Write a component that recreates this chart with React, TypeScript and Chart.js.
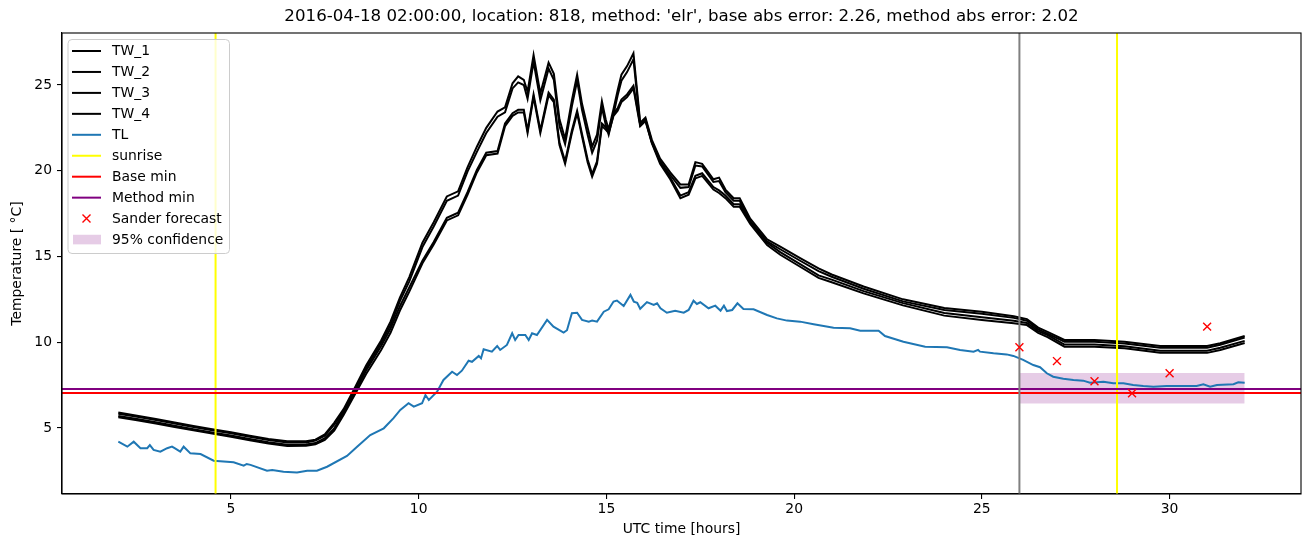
import React, { useEffect, useRef } from "react";
import { Chart, registerables } from "chart.js";

Chart.register(...registerables);

const titleText =
  "2016-04-18 02:00:00, location: 818, method: 'elr', base abs error: 2.26, method abs error: 2.02";

const twTimes = [
  2.0, 2.5, 3.0, 3.5, 4.0, 4.5, 5.0, 5.5, 6.0, 6.5,
  7.0, 7.25, 7.5, 7.75, 8.0, 8.3, 8.6, 9.0, 9.25, 9.5,
  9.75, 10.1, 10.4, 10.75, 11.05, 11.3, 11.55, 11.8, 12.1, 12.3,
  12.5, 12.65, 12.8, 12.9, 13.06, 13.24, 13.46, 13.6, 13.75, 13.9,
  14.08, 14.22, 14.35, 14.5, 14.62, 14.75, 14.88, 14.98, 15.06, 15.19,
  15.3, 15.4, 15.55, 15.72, 15.9, 16.04, 16.21, 16.43, 16.7, 16.97,
  17.19, 17.37, 17.55, 17.85, 18.0, 18.17, 18.39, 18.55, 18.83, 19.28,
  19.63, 20.16, 20.65, 21.0, 21.85, 22.9, 24.0, 25.0, 25.85, 26.2,
  26.5, 26.75, 27.2, 28.0, 28.8, 29.75, 31.0, 31.35, 32.0,
];

const tw1 = [
  5.90, 5.72, 5.52, 5.32, 5.12, 4.93, 4.75, 4.55, 4.36, 4.22,
  4.22, 4.32, 4.62, 5.30, 6.10, 7.35, 8.65, 10.10, 11.20, 12.60,
  13.80, 15.80, 17.00, 18.50, 18.80, 20.20, 21.40, 22.50, 23.45, 23.70,
  25.10, 25.50, 25.30, 24.60, 26.75, 24.50, 26.30, 25.65, 23.00, 21.85,
  24.10, 25.60, 23.90, 22.50, 21.40, 22.10, 24.05, 23.00, 22.40, 23.60,
  24.70, 25.60, 26.10, 26.85, 22.80, 23.10, 21.80, 20.70, 19.90, 19.20,
  19.20, 20.50, 20.40, 19.50, 19.60, 18.90, 18.40, 18.40, 17.20, 16.00,
  15.57, 14.90, 14.30, 13.95, 13.25, 12.50, 12.00, 11.78, 11.52, 11.35,
  10.85, 10.60, 10.13, 10.13, 10.03, 9.78, 9.78, 9.94, 10.36,
];

const tw2 = [
  5.83, 5.66, 5.46, 5.26, 5.06, 4.87, 4.69, 4.49, 4.30, 4.16,
  4.16, 4.27, 4.55, 5.20, 5.98, 7.25, 8.50, 9.95, 11.00, 12.40,
  13.55, 15.55, 16.75, 18.25, 18.55, 19.95, 21.10, 22.20, 23.15, 23.40,
  24.80, 25.15, 25.00, 24.20, 26.35, 24.10, 25.95, 25.30, 22.60, 21.55,
  23.75, 25.25, 23.55, 22.10, 21.05, 21.75, 23.70, 22.70, 22.10, 23.30,
  24.40, 25.25, 25.75, 26.50, 22.65, 22.95, 21.65, 20.55, 19.75, 19.00,
  19.05, 20.30, 20.25, 19.35, 19.40, 18.75, 18.25, 18.25, 17.05, 15.88,
  15.42, 14.75, 14.15, 13.82, 13.12, 12.38, 11.88, 11.66, 11.42, 11.25,
  10.75, 10.50, 10.03, 10.03, 9.93, 9.68, 9.68, 9.85, 10.28,
];

const tw3 = [
  5.70, 5.52, 5.33, 5.13, 4.93, 4.74, 4.56, 4.36, 4.17, 4.02,
  4.03, 4.12, 4.40, 4.98, 5.90, 7.10, 8.35, 9.78, 10.80, 12.10,
  13.20, 14.75, 15.85, 17.25, 17.55, 18.75, 20.05, 21.05, 21.15, 22.75,
  23.35, 23.55, 23.55, 22.35, 24.45, 22.35, 24.55, 24.15, 21.65, 20.55,
  22.35, 23.50, 22.15, 20.65, 19.80, 20.55, 22.75, 22.55, 22.35, 23.35,
  23.65, 24.15, 24.45, 24.95, 22.70, 23.00, 21.70, 20.50, 19.60, 18.55,
  18.75, 19.70, 19.85, 19.05, 18.85, 18.55, 18.05, 18.05, 17.05, 15.80,
  15.25, 14.55, 13.90, 13.65, 12.98, 12.28, 11.70, 11.45, 11.25, 11.12,
  10.65, 10.42, 9.86, 9.86, 9.76, 9.50, 9.50, 9.68, 10.08,
];

const tw4 = [
  5.62, 5.45, 5.26, 5.06, 4.86, 4.67, 4.49, 4.29, 4.10, 3.95,
  3.97, 4.05, 4.30, 4.85, 5.75, 6.95, 8.15, 9.55, 10.55, 11.85,
  12.95, 14.60, 15.70, 17.10, 17.40, 18.60, 19.90, 20.90, 21.00, 22.60,
  23.20, 23.40, 23.40, 22.20, 24.30, 22.20, 24.40, 24.00, 21.50, 20.40,
  22.20, 23.35, 22.00, 20.50, 19.65, 20.40, 22.60, 22.40, 22.20, 23.20,
  23.50, 24.00, 24.30, 24.80, 22.60, 22.90, 21.60, 20.40, 19.50, 18.40,
  18.60, 19.55, 19.70, 18.90, 18.70, 18.40, 17.90, 17.90, 16.90, 15.67,
  15.10, 14.40, 13.75, 13.50, 12.85, 12.15, 11.55, 11.30, 11.10, 11.00,
  10.55, 10.30, 9.74, 9.74, 9.65, 9.38, 9.38, 9.55, 9.95,
];

const tlTimes = [
  2.0, 2.24, 2.41, 2.59, 2.77, 2.84, 2.94, 3.12, 3.3, 3.43,
  3.5, 3.65, 3.74, 3.92, 4.19, 4.54, 5.07, 5.34, 5.42, 5.52,
  5.96, 6.1, 6.4, 6.76, 7.03, 7.29, 7.56, 8.09, 8.36, 8.71,
  9.07, 9.33, 9.51, 9.73, 9.87, 10.09, 10.18, 10.27, 10.49, 10.66,
  10.89, 11.02, 11.15, 11.33, 11.42, 11.6, 11.66, 11.73, 11.95, 12.09,
  12.17, 12.35, 12.49, 12.57, 12.66, 12.84, 12.93, 13.02, 13.15, 13.42,
  13.59, 13.86, 13.95, 14.08, 14.22, 14.35, 14.53, 14.62, 14.75, 14.93,
  15.06, 15.19, 15.28, 15.46, 15.64, 15.73, 15.82, 15.9, 16.08, 16.26,
  16.35, 16.44, 16.61, 16.83, 17.06, 17.19, 17.32, 17.41, 17.5, 17.72,
  17.9, 18.04, 18.13, 18.21, 18.35, 18.49, 18.65, 18.92, 19.28, 19.54,
  19.81, 20.16, 20.52, 21.05, 21.49, 21.76, 22.25, 22.42, 22.91, 23.49,
  24.07, 24.42, 24.78, 24.9, 24.95, 25.31, 25.66, 25.84, 26.1, 26.37,
  26.55, 26.73, 26.9, 27.17, 27.44, 27.7, 27.88, 28.24, 28.5, 28.77,
  29.03, 29.3, 29.57, 29.92, 30.28, 30.72, 30.9, 31.08, 31.26, 31.7,
  31.83, 32.0,
];

const tl = [
  4.2, 3.91, 4.2, 3.82, 3.82, 4.0, 3.72, 3.62, 3.82, 3.91,
  3.82, 3.62, 3.91, 3.52, 3.48, 3.09, 3.0, 2.8, 2.9, 2.85,
  2.51, 2.55, 2.45, 2.4, 2.51, 2.51, 2.74, 3.37, 3.91, 4.59,
  4.98, 5.57, 6.05, 6.44, 6.24, 6.44, 6.92, 6.63, 7.12, 7.8,
  8.28, 8.09, 8.34, 8.92, 8.86, 9.2, 9.06, 9.59, 9.45, 9.78,
  9.55, 9.84, 10.52, 10.13, 10.42, 10.42, 10.13, 10.52, 10.42, 11.3,
  10.91, 10.56, 10.7, 11.69, 11.72, 11.3, 11.2, 11.26, 11.2, 11.78,
  11.92, 12.37, 12.43, 12.11, 12.76, 12.37, 12.3, 11.95, 12.34, 12.17,
  12.27, 11.98, 11.72, 11.84, 11.72, 11.88, 12.42, 12.23, 12.33, 11.98,
  12.13, 11.84, 12.13, 11.82, 11.88, 12.27, 11.94, 11.92, 11.59, 11.39,
  11.26, 11.2, 11.05, 10.85, 10.81, 10.67, 10.67, 10.36, 10.03, 9.74,
  9.7, 9.55, 9.45, 9.55, 9.45, 9.36, 9.29, 9.2, 8.97, 8.67,
  8.54, 8.19, 7.99, 7.87, 7.8, 7.76, 7.64, 7.7, 7.61, 7.61,
  7.51, 7.45, 7.41, 7.45, 7.45, 7.45, 7.55, 7.41, 7.51, 7.55,
  7.66, 7.64,
];

const sunriseTimes = [4.59, 28.6];
const forecastStart = 26.0;
const baseMin = 7.04;
const methodMin = 7.27;
const sanderTimes = [26, 27, 28, 29, 30, 31];
const sanderValues = [9.71, 8.9, 7.72, 7.02, 8.19, 10.91];
const confTimes = [26, 32];
const confUpper = [8.21, 8.21];
const confLower = [6.42, 6.42];

const xTicks = [5, 10, 15, 20, 25, 30];
const yTicks = [5, 10, 15, 20, 25];
const xRange = [0.5, 33.5];
const yRange = [1.15, 28.03];

const legendLabels = [
  "TW_1", "TW_2", "TW_3", "TW_4", "TL", "sunrise",
  "Base min", "Method min", "Sander forecast", "95% confidence",
];

const FONT = "'DejaVu Sans', sans-serif";
const TL_COLOR = "#1f77b4";
const BAND_COLOR = "rgba(128,0,128,0.2)";

const zip = (xs: number[], ys: number[]) =>
  xs.map((x, i) => ({ x, y: ys[i] }));

const lineDs = (label: string, data: any[], color: string, order: number, extra: any = {}) => ({
  label,
  data,
  borderColor: color,
  backgroundColor: color,
  borderWidth: 2,
  pointRadius: 0,
  tension: 0,
  fill: false,
  order,
  ...extra,
});

const legendStyles = [
  { kind: "line", color: "#000" },
  { kind: "line", color: "#000" },
  { kind: "line", color: "#000" },
  { kind: "line", color: "#000" },
  { kind: "line", color: TL_COLOR },
  { kind: "line", color: "#ffff00" },
  { kind: "line", color: "#ff0000" },
  { kind: "line", color: "#800080" },
  { kind: "cross", color: "#ff0000" },
  { kind: "patch", color: BAND_COLOR },
];

const overlayPlugin = {
  id: "overlay",
  afterDatasetsDraw(chart: any) {
    const { ctx, chartArea: a } = chart;
    ctx.save();
    ctx.strokeStyle = "#000";
    ctx.lineWidth = 1.1;
    ctx.strokeRect(a.left, a.top, a.right - a.left, a.bottom - a.top);
    ctx.restore();
  },
  afterDraw(chart: any) {
    const { ctx, chartArea: a } = chart;
    ctx.save();
    // title centred over the axes
    ctx.font = `16.67px ${FONT}`;
    ctx.fillStyle = "#000";
    ctx.textAlign = "center";
    ctx.textBaseline = "middle";
    ctx.fillText(titleText, (a.left + a.right) / 2, 17);

    const bx = a.left + 6;
    const by = a.top + 6.5;
    const bw = 161.5;
    const bh = 214;
    const r = 4;
    ctx.beginPath();
    ctx.moveTo(bx + r, by);
    ctx.lineTo(bx + bw - r, by);
    ctx.quadraticCurveTo(bx + bw, by, bx + bw, by + r);
    ctx.lineTo(bx + bw, by + bh - r);
    ctx.quadraticCurveTo(bx + bw, by + bh, bx + bw - r, by + bh);
    ctx.lineTo(bx + r, by + bh);
    ctx.quadraticCurveTo(bx, by + bh, bx, by + bh - r);
    ctx.lineTo(bx, by + r);
    ctx.quadraticCurveTo(bx, by, bx + r, by);
    ctx.closePath();
    ctx.fillStyle = "rgba(255,255,255,0.8)";
    ctx.fill();
    ctx.strokeStyle = "#cccccc";
    ctx.lineWidth = 1;
    ctx.stroke();

    ctx.font = `13.9px ${FONT}`;
    ctx.textBaseline = "middle";
    ctx.textAlign = "left";
    const hx0 = bx + 4;
    const hx1 = bx + 33;
    const tx = bx + 44;
    legendLabels.forEach((label, i) => {
      const cy = by + 11.5 + i * 20.95;
      const st = legendStyles[i];
      if (st.kind === "line") {
        ctx.strokeStyle = st.color;
        ctx.lineWidth = 2;
        ctx.beginPath();
        ctx.moveTo(hx0, cy);
        ctx.lineTo(hx1, cy);
        ctx.stroke();
      } else if (st.kind === "cross") {
        const cx = (hx0 + hx1) / 2;
        const d = 4;
        ctx.strokeStyle = st.color;
        ctx.lineWidth = 1.4;
        ctx.beginPath();
        ctx.moveTo(cx - d, cy - d);
        ctx.lineTo(cx + d, cy + d);
        ctx.moveTo(cx - d, cy + d);
        ctx.lineTo(cx + d, cy - d);
        ctx.stroke();
      } else {
        ctx.fillStyle = st.color;
        ctx.fillRect(hx0 + 1, cy - 4.8, hx1 - hx0 - 1, 9.6);
      }
      ctx.fillStyle = "#000";
      ctx.fillText(label, tx, cy + 0.5);
    });
    ctx.restore();
  },
};

export default function App() {
  const canvasRef = useRef<HTMLCanvasElement | null>(null);

  useEffect(() => {
    document.body.style.margin = "0";
    const canvas = canvasRef.current;
    if (!canvas) return;

    const datasets: any[] = [
      lineDs("TW_1", zip(twTimes, tw1), "#000000", 20),
      lineDs("TW_2", zip(twTimes, tw2), "#000000", 19),
      lineDs("TW_3", zip(twTimes, tw3), "#000000", 18),
      lineDs("TW_4", zip(twTimes, tw4), "#000000", 17),
      lineDs("TL", zip(tlTimes, tl), TL_COLOR, 16),
      lineDs("sunrise", [{ x: sunriseTimes[0], y: yRange[0] }, { x: sunriseTimes[0], y: yRange[1] }], "#ffff00", 15),
      lineDs("sunrise2", [{ x: sunriseTimes[1], y: yRange[0] }, { x: sunriseTimes[1], y: yRange[1] }], "#ffff00", 14),
      lineDs("Base min", [{ x: xRange[0], y: baseMin }, { x: xRange[1], y: baseMin }], "#ff0000", 13),
      lineDs("Method min", [{ x: xRange[0], y: methodMin }, { x: xRange[1], y: methodMin }], "#800080", 12),
      lineDs("forecast start", [{ x: forecastStart, y: yRange[0] }, { x: forecastStart, y: yRange[1] }], "#808080", 11),
      {
        label: "Sander forecast",
        data: zip(sanderTimes, sanderValues),
        showLine: false,
        pointStyle: "crossRot",
        pointRadius: 5.6,
        pointBorderWidth: 1.4,
        borderColor: "#ff0000",
        backgroundColor: "#ff0000",
        order: 1,
      },
      {
        label: "95% confidence",
        data: zip(confTimes, confUpper),
        borderColor: "transparent",
        borderWidth: 0,
        pointRadius: 0,
        backgroundColor: BAND_COLOR,
        fill: "+1",
        order: 30,
      },
      {
        label: "conf lower",
        data: zip(confTimes, confLower),
        borderColor: "transparent",
        borderWidth: 0,
        pointRadius: 0,
        backgroundColor: BAND_COLOR,
        fill: false,
        order: 31,
      },
    ];

    const tickFont = { family: FONT, size: 13.9 };

    const chart = new Chart(canvas, {
      type: "line",
      data: { datasets },
      plugins: [overlayPlugin],
      options: {
        animation: false,
        responsive: false,
        devicePixelRatio: 1,
        events: [],
        layout: { padding: { left: 0, right: 9, top: 33, bottom: 0 } },
        plugins: {
          legend: { display: false },
          tooltip: { enabled: false },
          title: { display: false },
        },
        scales: {
          x: {
            type: "linear",
            min: xRange[0],
            max: xRange[1],
            afterFit: (s: any) => {
              s.height = 53;
            },
            afterBuildTicks: (s: any) => {
              s.ticks = xTicks.map((v) => ({ value: v }));
            },
            ticks: { color: "#000", font: tickFont, padding: 2, maxRotation: 0, autoSkip: false },
            grid: { display: true, drawOnChartArea: false, drawTicks: true, tickLength: 5, color: "#000", lineWidth: 1.1 },
            border: { display: true, color: "#000", width: 1.1 },
            title: {
              display: true,
              text: "UTC time [hours]",
              color: "#000",
              font: { family: FONT, size: 13.9 },
              padding: { top: 0, bottom: 9 },
            },
          },
          y: {
            type: "linear",
            min: yRange[0],
            max: yRange[1],
            afterFit: (s: any) => {
              s.width = 62;
            },
            afterBuildTicks: (s: any) => {
              s.ticks = yTicks.map((v) => ({ value: v }));
            },
            ticks: { color: "#000", font: tickFont, padding: 5, autoSkip: false },
            grid: { display: true, drawOnChartArea: false, drawTicks: true, tickLength: 5, color: "#000", lineWidth: 1.1 },
            border: { display: true, color: "#000", width: 1.1 },
            title: {
              display: true,
              text: "Temperature [ °C]",
              color: "#000",
              font: { family: FONT, size: 13.9 },
              padding: { top: 9.5, bottom: 0 },
            },
          },
        },
      } as any,
    });

    return () => {
      chart.destroy();
    };
  }, []);

  return (
    <div style={{ width: 1310, height: 547 }}>
      <canvas ref={canvasRef} width={1310} height={547} style={{ display: "block" }} />
    </div>
  );
}
